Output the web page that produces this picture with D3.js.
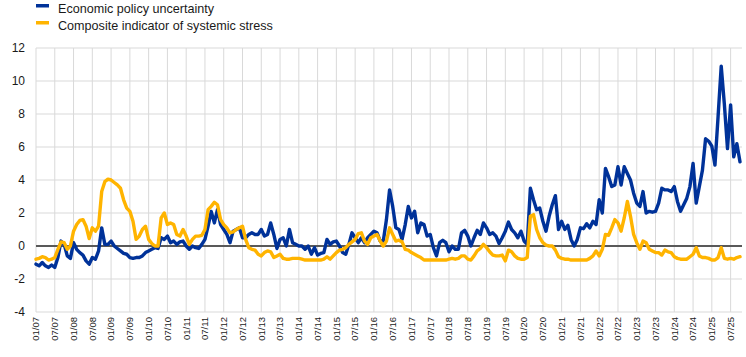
<!DOCTYPE html>
<html>
<head>
<meta charset="utf-8">
<title>Economic policy uncertainty and systemic stress</title>
<style>
  body { margin: 0; background: #fff; }
  text { font-family: "Liberation Sans", Arial, sans-serif; fill: #1a1a1a; }
</style>
</head>
<body>
<script src="https://cdn.jsdelivr.net/npm/d3@7/dist/d3.min.js"></script>
<script>
// monthly data, Jan 2007 - Oct 2025 (standardised values)
var startMonth = new Date(2007, 0, 1);
var endMonth = new Date(2025, 9, 1);

var epu = [
  -1.1, -1.2, -1.0, -1.2, -1.3, -1.15, -1.3, -0.7, 0.3, 0.1, -0.6, -0.75,
  0.2, -0.2, -0.4, -0.55, -0.9, -1.1, -0.7, -0.8, -0.3, 1.1, 0.1, 0.1,
  0.3, 0.0, -0.15, -0.3, -0.45, -0.5, -0.7, -0.75, -0.7, -0.7, -0.6, -0.4,
  -0.3, -0.2, -0.1, -0.15, 0.5, 0.4, 0.6, 0.2, 0.3, 0.1, 0.25, 0.3,
  0.0, -0.2, 0.0, -0.1, -0.15, 0.1, 0.4, 1.2, 2.1, 1.4, 2.2, 1.3,
  1.0, 0.7, 0.2, 0.9, 1.0, 1.1, 0.5, 0.5, 0.7, 0.8, 0.7, 0.7,
  1.0, 0.6, 0.7, 1.4, 0.7, -0.15, 0.4, 0.5, 0.0, 1.0, 0.2, 0.1,
  0.0, 0.0, -0.2, 0.0, -0.5, -0.1, -0.55, -0.45, -0.4, 0.4, 0.1, 0.25,
  0.3, 0.0, -0.4, -0.5, 0.1, 0.8, 0.5, 0.2, 0.5, 0.2, 0.5, 0.7,
  0.9, 0.8, 0.3, 0.3, 1.6, 3.4, 2.4, 1.1, 1.0, 0.4, 1.3, 2.4,
  1.7, 2.1, 0.8, 1.4, 1.3, 0.6, 0.7, -0.1, -0.6, 0.2, 0.35, 0.2,
  -0.35, 0.0, -0.2, -0.2, 0.8, 0.95, 0.6, 0.0, 0.5, 0.95, 0.7, 1.4,
  1.1, 0.7, 0.8, 0.6, 0.15, 0.5, 0.9, 1.45, 1.0, 0.8, 0.5, 0.9,
  0.3, 0.1, 3.5, 2.8, 2.2, 2.3, 1.5, 0.9, 1.8, 2.5, 3.05, 1.0,
  1.5, 1.0, 1.25, 0.4, 0.0, 0.4, 1.1, 1.05, 1.35, 1.1, 1.5, 1.3,
  2.8, 2.0, 4.7, 4.2, 3.6, 3.7, 4.8, 3.7, 4.8, 4.4, 4.0, 3.2,
  2.6, 2.4, 3.3, 2.0, 2.1, 2.05, 2.1, 2.6, 3.5, 3.4, 3.4, 3.3,
  3.6, 2.7, 2.1, 2.5, 2.9, 3.6, 5.0, 2.6, 3.6, 4.6, 6.5, 6.35,
  6.05, 4.9, 7.85, 10.9, 8.6, 5.9, 8.55, 5.4, 6.2, 5.1
];

var ciss = [
  -0.8, -0.75, -0.65, -0.7, -0.85, -0.8, -0.7, -0.2, 0.25, 0.2, -0.2, 0.0,
  0.9, 1.3, 1.55, 1.6, 1.2, 0.45, 1.1, 0.9, 1.2, 3.3, 3.9, 4.05,
  4.0, 3.85, 3.7, 3.5, 2.8, 2.3, 2.1, 1.5, 0.4, 0.6, 1.0, 1.2,
  0.4, 0.15, 0.0, 0.0, 1.7, 2.0, 1.3, 1.4, 1.3, 0.7, 0.6, 1.0,
  0.6, 0.1, 0.4, 0.6, 0.6, 0.65, 1.0, 2.2, 2.4, 2.65, 2.5, 1.6,
  1.3, 1.1, 0.8, 0.85, 1.0, 1.1, 1.2, 0.4, -0.1, -0.2, -0.25, -0.5,
  -0.6, -0.4, -0.3, -0.35, -0.7, -0.6, -0.5, -0.75, -0.8, -0.8, -0.75, -0.75,
  -0.75, -0.8, -0.85, -0.85, -0.85, -0.85, -0.85, -0.85, -0.8, -0.65, -0.8, -0.6,
  -0.4, -0.25, -0.2, -0.1, 0.1, 0.25, 0.4, 0.75, 0.8, 0.3, 0.1, 0.5,
  0.6, 0.7, 0.3, 0.0, 0.3, 1.1, 0.7, 0.3, 0.35, 0.25, -0.2, -0.25,
  -0.4, -0.5, -0.6, -0.7, -0.85, -0.85, -0.85, -0.85, -0.85, -0.85, -0.85, -0.85,
  -0.8, -0.75, -0.8, -0.75, -0.6, -0.6, -0.8, -0.85, -0.6, -0.3, -0.15, 0.1,
  -0.1, -0.35, -0.55, -0.6, -0.6, -0.55, -0.9, -0.25, -0.35, -0.6, -0.75, -0.8,
  -0.8, -0.7, 1.8, 1.9, 1.0, 0.5, 0.2, 0.05, 0.0, 0.0, -0.25, -0.65,
  -0.75, -0.8, -0.8, -0.85, -0.85, -0.85, -0.85, -0.85, -0.85, -0.75, -0.6, -0.3,
  -0.6, -0.2, 0.7, 0.65, 1.1, 1.6, 1.4, 0.9, 1.7, 2.7, 1.8, 0.7,
  0.2, -0.2, 0.3, 0.2, -0.2, -0.3, -0.4, -0.4, -0.55, -0.25, -0.35, -0.4,
  -0.65, -0.75, -0.8, -0.8, -0.8, -0.65, -0.5, -0.1, -0.6, -0.7, -0.7, -0.75,
  -0.85, -0.85, -0.7, -0.1, -0.75, -0.8, -0.75, -0.8, -0.7, -0.65
];

var xTickLabels = [
  "01/07", "07/07", "01/08", "07/08", "01/09", "07/09", "01/10", "07/10",
  "01/11", "07/11", "01/12", "07/12", "01/13", "07/13", "01/14", "07/14",
  "01/15", "07/15", "01/16", "07/16", "01/17", "07/17", "01/18", "07/18",
  "01/19", "07/19", "01/20", "07/20", "01/21", "07/21", "01/22", "07/22",
  "01/23", "07/23", "01/24", "07/24", "01/25", "07/25"
];
var yTicks = [-4, -2, 0, 2, 4, 6, 8, 10, 12];

var seriesNames = ["Economic policy uncertainty", "Composite indicator of systemic stress"];
var seriesColors = ["#003299", "#ffb400"];

// dimensions
var w = 746, h = 357;
var plotLeft = 36, plotRight = 742, plotTop = 48, plotBottom = 312;

var fmt = d3.timeFormat("%m/%y");
var months = d3.timeMonth.range(startMonth, d3.timeMonth.offset(endMonth, 1)).map(fmt);

var x = d3.scalePoint().domain(months).range([plotLeft, 740]);
var y = d3.scaleLinear().domain([-4, 12]).range([plotBottom, plotTop]);

var svg = d3.select("body").append("svg")
  .attr("width", w)
  .attr("height", h);

// horizontal gridlines
svg.append("g").selectAll("line")
  .data(yTicks)
  .enter().append("line")
  .attr("x1", plotLeft).attr("x2", plotRight)
  .attr("y1", function(d) { return y(d); })
  .attr("y2", function(d) { return y(d); })
  .attr("stroke", "#d9d9d9")
  .attr("stroke-width", 1);

// vertical gridlines
svg.append("g").selectAll("line")
  .data(xTickLabels)
  .enter().append("line")
  .attr("x1", function(d) { return x(d); })
  .attr("x2", function(d) { return x(d); })
  .attr("y1", plotTop).attr("y2", plotBottom)
  .attr("stroke", "#d9d9d9")
  .attr("stroke-width", 1);

// y axis labels
svg.append("g").selectAll("text")
  .data(yTicks)
  .enter().append("text")
  .attr("x", 25)
  .attr("y", function(d) { return y(d); })
  .attr("dy", "0.35em")
  .attr("text-anchor", "end")
  .style("font-size", "12px")
  .text(function(d) { return d; });

// x axis labels
svg.append("g").selectAll("text")
  .data(xTickLabels)
  .enter().append("text")
  .attr("transform", function(d) { return "translate(" + x(d) + "," + 317 + ") rotate(-90)"; })
  .attr("dy", "0.35em")
  .attr("text-anchor", "end")
  .style("font-size", "9.5px")
  .text(function(d) { return d; });

// zero line
svg.append("line")
  .attr("x1", plotLeft).attr("x2", plotRight)
  .attr("y1", y(0)).attr("y2", y(0))
  .attr("stroke", "#595959")
  .attr("stroke-width", 2);

// lines
var line = d3.line()
  .x(function(d, i) { return x(months[i]); })
  .y(function(d) { return y(d); });

[epu, ciss].forEach(function(s, i) {
  svg.append("path")
    .datum(s)
    .attr("d", line)
    .attr("fill", "none")
    .attr("stroke", seriesColors[i])
    .attr("stroke-width", 3.4)
    .attr("stroke-linejoin", "round")
    .attr("stroke-linecap", "round");
});

// legend
var legend = svg.append("g");
seriesNames.forEach(function(name, i) {
  legend.append("rect")
    .attr("x", 36).attr("y", 4 + i * 17)
    .attr("width", 13).attr("height", 3.5)
    .attr("fill", seriesColors[i]);
  legend.append("text")
    .attr("x", 58).attr("y", 12.5 + i * 17)
    .style("font-size", "12.6px")
    .text(name);
});
</script>
</body>
</html>
